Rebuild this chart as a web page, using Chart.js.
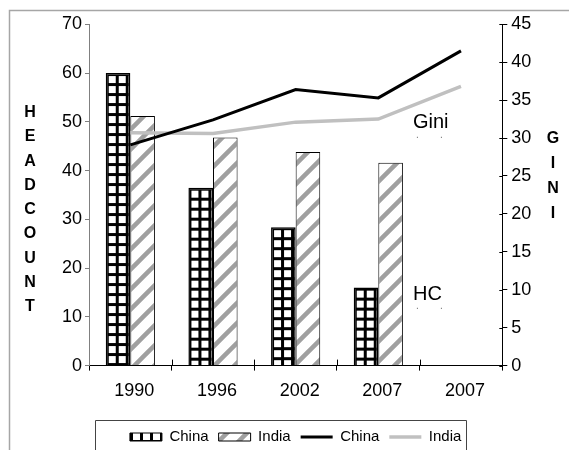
<!DOCTYPE html>
<html>
<head>
<meta charset="utf-8">
<script src="https://cdn.jsdelivr.net/npm/chart.js@4"></script>
<style>
  html, body { margin: 0; padding: 0; background: #fff; }
  canvas { display: block; }
</style>
</head>
<body>
<canvas id="c" width="569" height="450"></canvas>
<script>
// ---- Data ----
const categories = ['1990', '1996', '2002', '2007', '2007'];
const chinaHeadcount = [60, 36.5, 28.4, 16, null];
const indiaHeadcount = [51.2, 46.8, 43.8, 41.6, null];
const chinaGini = [29.1, 32.4, 36.4, 35.3, 41.5];
const indiaGini = [30.7, 30.6, 32.1, 32.5, 36.8];
const seriesLabels = ['China', 'India', 'China', 'India'];
const leftAxisTitle = 'HEADCOUNT';
const rightAxisTitle = 'GINI';
const annotations = [{ text: 'Gini', value: 32 }, { text: 'HC', value: 9.4 }];

const FONT = 'Liberation Sans, Arial, sans-serif';

// ---- Patterns ----
function makeGrid() {
  const c = document.createElement('canvas');
  c.width = 10; c.height = 10;
  const g = c.getContext('2d');
  g.fillStyle = '#fff'; g.fillRect(0, 0, 10, 10);
  g.fillStyle = '#000';
  g.fillRect(0, 0, 3, 10);
  g.fillRect(0, 0, 10, 3);
  return c;
}
function makeStripes() {
  const c = document.createElement('canvas');
  c.width = 20; c.height = 20;
  const g = c.getContext('2d');
  g.fillStyle = '#fff'; g.fillRect(0, 0, 20, 20);
  g.strokeStyle = '#a0a0a0';
  g.lineWidth = 4.5;
  g.beginPath();
  g.moveTo(-10, 10); g.lineTo(10, -10);
  g.moveTo(0, 20); g.lineTo(20, 0);
  g.moveTo(10, 30); g.lineTo(30, 10);
  g.stroke();
  return c;
}
const ctx = document.getElementById('c').getContext('2d');
const gridTile = makeGrid();
const chinaPattern = ctx.createPattern(gridTile, 'repeat');
const indiaPattern = ctx.createPattern(makeStripes(), 'repeat');

// ---- Plugins ----
const framePlugin = {
  id: 'frame',
  beforeDraw(chart) {
    const c = chart.ctx;
    c.save();
    c.fillStyle = '#fff';
    c.fillRect(0, 0, chart.width, chart.height);
    c.strokeStyle = '#a6a6a6';
    c.lineWidth = 1.5;
    c.beginPath();
    c.moveTo(9.5, chart.height);
    c.lineTo(9.5, 10.5);
    c.lineTo(chart.width, 10.5);
    c.stroke();
    c.restore();
  }
};

const alignPatternPlugin = {
  id: 'alignPattern',
  beforeDatasetDraw(chart, args) {
    if (args.index !== 0) return;
    args.meta.data.forEach(el => {
      const p = chart.ctx.createPattern(gridTile, 'repeat');
      p.setTransform(new DOMMatrix().translate(el.x - el.width / 2, el.y));
      el.options = Object.assign({}, el.options, { backgroundColor: p });
    });
  }
};

const extrasPlugin = {
  id: 'extras',
  afterDraw(chart) {
    const c = chart.ctx;
    const xs = chart.scales.x, y1 = chart.scales.y1;
    c.save();
    // inward tick halves
    c.strokeStyle = '#000';
    c.lineWidth = 1;
    c.beginPath();
    y1.ticks.forEach(t => {
      const y = Math.round(y1.getPixelForValue(t.value)) + 0.5;
      c.moveTo(y1.left - 3, y); c.lineTo(y1.left, y);
    });
    for (let i = 0; i <= categories.length; i++) {
      const x = Math.round(xs.getPixelForValue(i - 0.5)) + 0.5;
      if (i === 0) continue;
      c.moveTo(x, xs.top - 6); c.lineTo(x, xs.top);
    }
    c.stroke();

    // axis titles (stacked letters)
    c.fillStyle = '#000';
    c.font = 'bold 16px ' + FONT;
    c.textAlign = 'center';
    c.textBaseline = 'middle';
    leftAxisTitle.split('').forEach((ch, i) => c.fillText(ch, 30, 112.5 + i * 24.3));
    rightAxisTitle.split('').forEach((ch, i) => c.fillText(ch, 553, 138.5 + i * 25));

    // annotations
    c.font = '20px ' + FONT;
    c.textAlign = 'left';
    const ax = xs.getPixelForValue(categories.length - 1) - 48;
    annotations.forEach(a => {
      const y = y1.getPixelForValue(a.value);
      c.fillStyle = '#000';
      c.font = '20px ' + FONT;
      c.fillText(a.text, ax, y);
      c.fillStyle = '#777';
      c.font = '10px ' + FONT;
      c.fillText('.', ax + 3, y + 12);
      c.fillText('.', ax + 27, y + 12);
    });

    // legend box
    const lg = chart.legend;
    const hb = lg.legendHitBoxes;
    if (hb && hb.length) {
      const left = Math.round(hb[0].left - 35) + 0.5;
      const last = hb[hb.length - 1];
      const right = Math.round(last.left + last.width + 5) + 0.5;
      const top = Math.round(lg.top) + 0.5;
      c.strokeStyle = '#444';
      c.lineWidth = 1;
      c.beginPath();
      c.moveTo(left, chart.height + 2);
      c.lineTo(left, top);
      c.lineTo(right, top);
      c.lineTo(right, chart.height + 2);
      c.stroke();
    }
    c.restore();
  }
};

// ---- Chart ----
new Chart(ctx, {
  data: {
    labels: categories,
    datasets: [
      { type: 'bar', label: seriesLabels[0], data: chinaHeadcount, yAxisID: 'y',
        backgroundColor: chinaPattern, borderColor: '#000', borderWidth: 1.5,
        categoryPercentage: 0.595, barPercentage: 1.0, order: 2 },
      { type: 'bar', label: seriesLabels[1], data: indiaHeadcount, yAxisID: 'y',
        backgroundColor: indiaPattern, borderColor: '#000', borderWidth: 1,
        categoryPercentage: 0.595, barPercentage: 1.0, order: 2 },
      { type: 'line', label: seriesLabels[2], data: chinaGini, yAxisID: 'y1',
        borderColor: '#000', backgroundColor: '#000', borderWidth: 3,
        pointRadius: 0, tension: 0, order: 1 },
      { type: 'line', label: seriesLabels[3], data: indiaGini, yAxisID: 'y1',
        borderColor: '#c0c0c0', backgroundColor: '#c0c0c0', borderWidth: 3.5,
        pointRadius: 0, tension: 0, order: 1 }
    ]
  },
  options: {
    responsive: false,
    animation: false,
    devicePixelRatio: 1,
    layout: { padding: { top: 24.3, left: 0, right: 0, bottom: 0 } },
    plugins: {
      tooltip: { enabled: false },
      title: { display: false },
      legend: {
        position: 'bottom',
        fullSize: false,
        maxHeight: 30.5,
        labels: {
          color: '#000',
          font: { family: FONT, size: 15 },
          padding: 10,
          usePointStyle: true,
          pointStyleWidth: 32,
          boxHeight: 8,
          generateLabels(chart) {
            const items = Chart.defaults.plugins.legend.labels.generateLabels(chart);
            items.forEach((it, i) => {
              const ds = chart.data.datasets[i];
              if (ds.type === 'line') {
                it.pointStyle = 'line';
                it.strokeStyle = ds.borderColor;
                it.lineWidth = ds.borderWidth;
              } else {
                it.pointStyle = 'rect';
                it.fillStyle = ds.backgroundColor;
                it.strokeStyle = '#000';
                it.lineWidth = 1;
              }
            });
            return items;
          }
        }
      }
    },
    scales: {
      x: {
        offset: true,
        grid: { offset: true, drawOnChartArea: false, tickLength: 5, color: '#000' },
        border: { color: '#000', width: 1 },
        ticks: { color: '#000', font: { family: FONT, size: 18 }, padding: 10,
                 labelOffset: 4, maxRotation: 0, autoSkip: false },
        afterFit(s) { s.height = 53.9; }
      },
      y: {
        position: 'left',
        min: 0, max: 70,
        grid: { drawOnChartArea: false, tickLength: 4, color: '#808080' },
        border: { color: '#808080', width: 1 },
        ticks: { stepSize: 10, color: '#000', font: { family: FONT, size: 18 }, padding: 3 },
        afterFit(s) { s.width = 89; }
      },
      y1: {
        position: 'right',
        min: 0, max: 45,
        grid: { drawOnChartArea: false, tickLength: 5, color: '#000' },
        border: { color: '#000', width: 1 },
        ticks: { stepSize: 5, color: '#000', font: { family: FONT, size: 18 }, padding: 4 },
        afterFit(s) { s.width = 66.7; }
      }
    }
  },
  plugins: [framePlugin, alignPatternPlugin, extrasPlugin]
});
</script>
</body>
</html>
